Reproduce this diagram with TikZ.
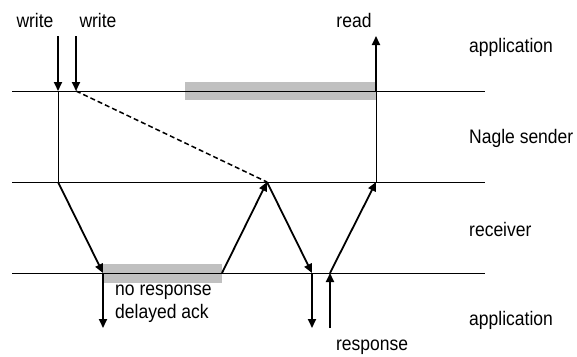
\documentclass[tikz,border=0pt]{standalone}
\usepackage{fontspec}
\usepackage{graphicx}
\setmainfont{Liberation Sans}
\usetikzlibrary{arrows.meta}
\definecolor{boxgray}{HTML}{C0C0C0}
\newcommand\stretchtxt[1]{\scalebox{1}[1.12]{#1}}
\tikzset{
  lbl/.style={inner sep=0pt, font=\fontsize{17.5}{20}\selectfont},
  tline/.style={line width=0.9pt, black},
  thick arrow/.style={line width=1.8pt, -{Triangle[length=9pt,width=8pt]}},
  dline/.style={line width=1.5pt, dash pattern=on 5pt off 3pt},
  shade/.style={fill=boxgray, draw=none}
}
\begin{document}
\begin{tikzpicture}[x=1pt,y=-1pt]
\useasboundingbox (0,0) rectangle (577,356);
% grey boxes
\fill[boxgray] (185,82) rectangle (376,100);
\fill[boxgray] (103,264) rectangle (222,283);
% coordinates
\coordinate (L1a) at (12,91);  \coordinate (L1b) at (485,91);
\coordinate (L2a) at (12,182); \coordinate (L2b) at (485,182);
\coordinate (L3a) at (12,273); \coordinate (L3b) at (485,273);
\coordinate (w1t) at (58,36);  \coordinate (w1b) at (58,91);
\coordinate (w2t) at (76,36);  \coordinate (w2b) at (76,91);
\coordinate (s1) at (58,182);
\coordinate (r1) at (103,273); \coordinate (r1d) at (103,328);
\coordinate (r2) at (222,273);
\coordinate (s2) at (267,182);
\coordinate (r3) at (312,273); \coordinate (r3d) at (312,328);
\coordinate (r4) at (330,273); \coordinate (r4u) at (330,328);
\coordinate (s3) at (376,182);
\coordinate (a3) at (376,91);  \coordinate (a3t) at (376,36);
% horizontal lines
\draw[tline] (L1a) -- (L1b);
\draw[tline] (L2a) -- (L2b);
\draw[tline] (L3a) -- (L3b);
% thin verticals
\draw[tline] (w1b) -- (s1);
\draw[tline] (a3) -- (s3);
% dashed
\draw[dline] (w2b) -- (s2);
% arrows
\draw[thick arrow] (w1t) -- (w1b);
\draw[thick arrow] (w2t) -- (w2b);
\draw[thick arrow] (s1) -- (r1);
\draw[thick arrow] (r1) -- (r1d);
\draw[thick arrow] (r2) -- (s2);
\draw[thick arrow] (s2) -- (r3);
\draw[thick arrow] (r3) -- (r3d);
\draw[thick arrow] (r4u) -- (r4);
\draw[thick arrow] (r4) -- (s3);
\draw[thick arrow] (a3) -- (a3t);
% labels
\node[lbl] (tw1) at (35,20) {\stretchtxt{write}};
\node[lbl] (tw2) at (98,20) {\stretchtxt{write}};
\node[lbl] (trd) at (354,20) {\stretchtxt{read}};
\node[lbl, anchor=west] (tapp1) at (469,47) {\stretchtxt{application}};
\node[lbl, anchor=west] (tnag) at (469,138) {\stretchtxt{Nagle sender}};
\node[lbl, anchor=west] (trec) at (469,229) {\stretchtxt{receiver}};
\node[lbl, anchor=west] (tapp2) at (469,320) {\stretchtxt{application}};
\node[lbl, anchor=west] (tnr) at (115,292) {\stretchtxt{no response}};
\node[lbl, anchor=west] (tda) at (115,313) {\stretchtxt{delayed ack}};
\node[lbl] (tresp) at (372,347) {\stretchtxt{response}};
\end{tikzpicture}
\end{document}
